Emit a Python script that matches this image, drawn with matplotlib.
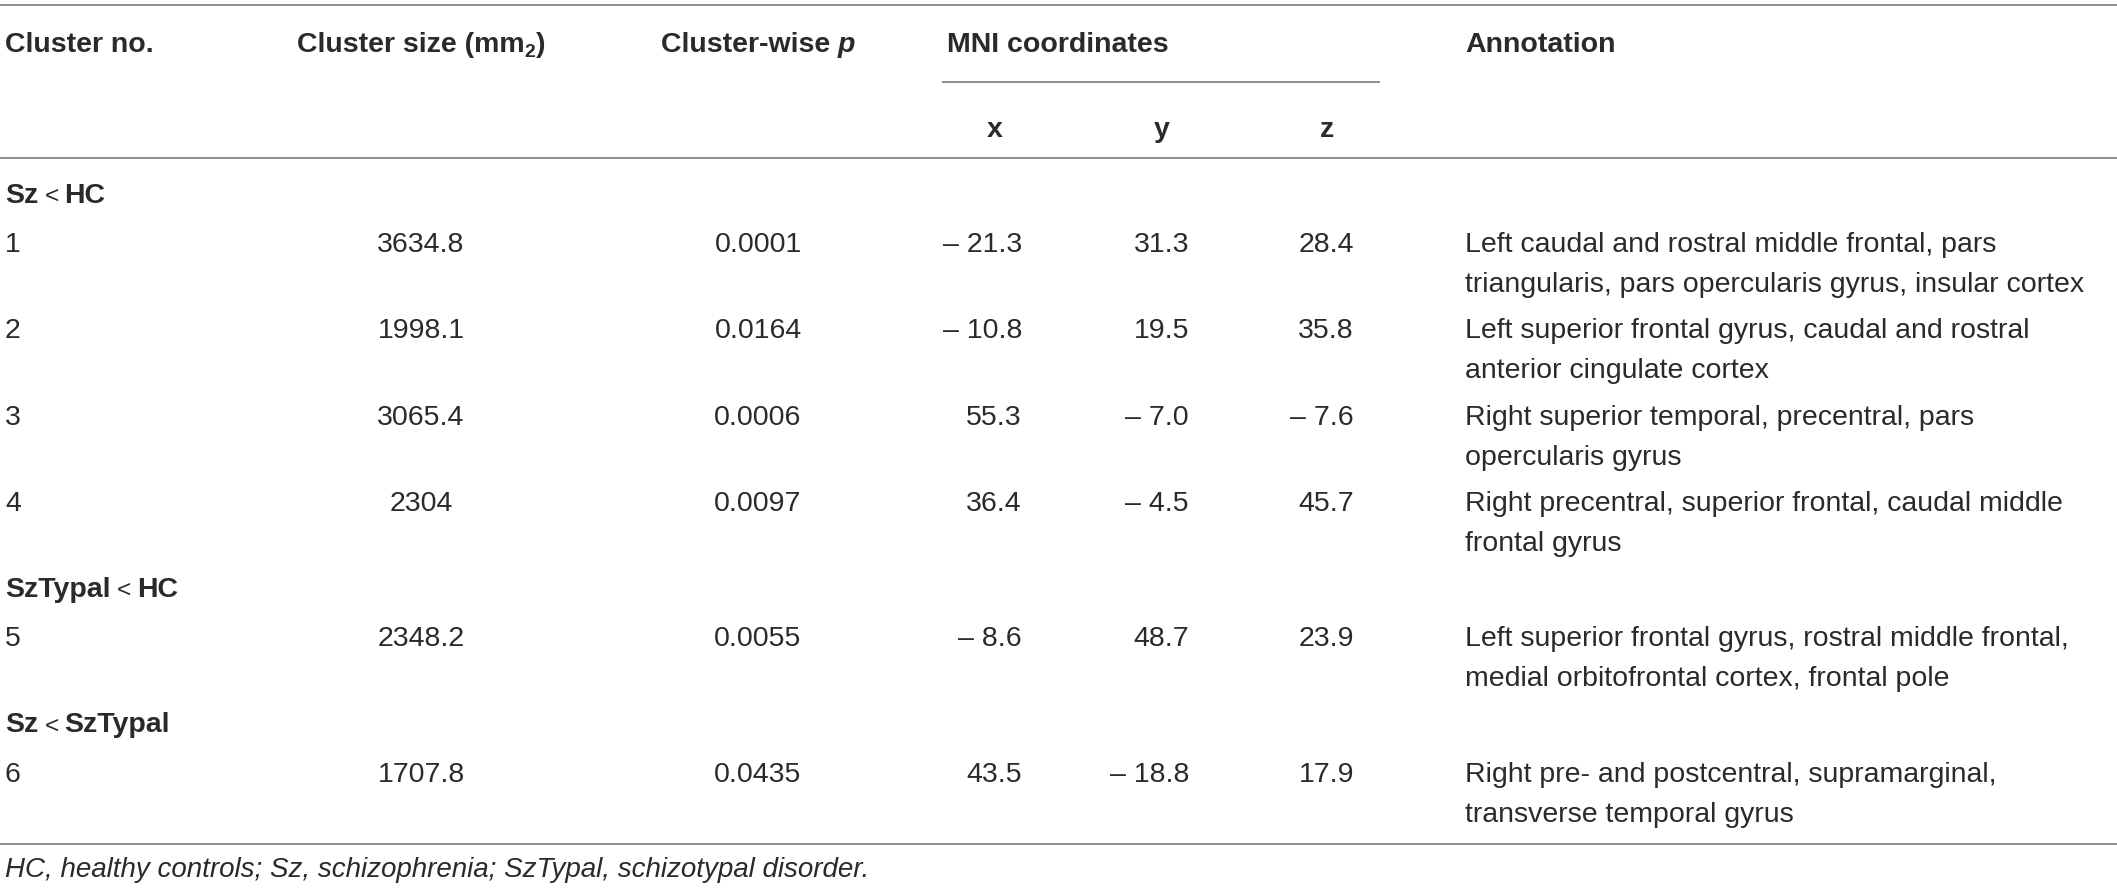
import matplotlib
matplotlib.use('Agg')
import matplotlib.pyplot as plt

# ── Table content ────────────────────────────────────────────────────────────
groups = ['Sz < HC', 'SzTypal < HC', 'Sz < SzTypal']
group_rows = [[0, 1, 2, 3], [4], [5]]

cluster_no = ['1', '2', '3', '4', '5', '6']
cluster_size = ['3634.8', '1998.1', '3065.4', '2304', '2348.2', '1707.8']
p_values = ['0.0001', '0.0164', '0.0006', '0.0097', '0.0055', '0.0435']
mni_x = [-21.3, -10.8, 55.3, 36.4, -8.6, 43.5]
mni_y = [31.3, 19.5, -7.0, -4.5, 48.7, -18.8]
mni_z = [28.4, 35.8, -7.6, 45.7, 23.9, 17.9]
annotations = [
    ('Left caudal and rostral middle frontal, pars',
     'triangularis, pars opercularis gyrus, insular cortex'),
    ('Left superior frontal gyrus, caudal and rostral',
     'anterior cingulate cortex'),
    ('Right superior temporal, precentral, pars',
     'opercularis gyrus'),
    ('Right precentral, superior frontal, caudal middle',
     'frontal gyrus'),
    ('Left superior frontal gyrus, rostral middle frontal,',
     'medial orbitofrontal cortex, frontal pole'),
    ('Right pre- and postcentral, supramarginal,',
     'transverse temporal gyrus'),
]
footnote = 'HC, healthy controls; Sz, schizophrenia; SzTypal, schizotypal disorder.'

# ── Style ────────────────────────────────────────────────────────────────────
W, H = 2117, 893
FS = 20.5
FONT = 'Liberation Sans'
TXT = '#2a2a2a'
RULE = '#858585'
plt.rcParams['font.family'] = [FONT, 'DejaVu Sans']

fig = plt.figure(figsize=(W / 100, H / 100), dpi=100)
ax = fig.add_axes([0, 0, 1, 1])
ax.set_xlim(0, W)
ax.set_ylim(H, 0)
ax.axis('off')
renderer = fig.canvas.get_renderer()

CAP = 10  # half cap height in px: centre -> baseline


def fmt(v):
    return f'– {abs(v):.1f}' if v < 0 else f'{v:.1f}'


def runs_width(runs):
    w = 0
    for s, props in runs:
        t = ax.text(0, 0, s, fontsize=props.get('fontsize', FS),
                    fontweight=props.get('fontweight', 'normal'),
                    fontstyle=props.get('fontstyle', 'normal'))
        w += t.get_window_extent(renderer).width + props.get('gap', 0)
        t.remove()
    return w


def draw_runs(x, yc, runs, ha='left'):
    if ha == 'center':
        x -= runs_width(runs) / 2
    for s, props in runs:
        t = ax.text(x, yc + CAP + props.get('dy', 0), s, va='baseline',
                    color=TXT, fontsize=props.get('fontsize', FS),
                    fontweight=props.get('fontweight', 'normal'),
                    fontstyle=props.get('fontstyle', 'normal'))
        x += t.get_window_extent(renderer).width + props.get('gap', 0)


def cell(x, yc, s, ha='left', fontsize=FS, **kw):
    ax.text(x, yc + CAP, s, ha=ha, va='baseline', color=TXT,
            fontsize=fontsize, **kw)


B = {'fontweight': 'bold'}

# ── Rules ────────────────────────────────────────────────────────────────────
for y in (5, 158, 844):
    ax.plot([0, W], [y, y], color=RULE, lw=1.3, solid_capstyle='butt')
ax.plot([942, 1380], [82, 82], color=RULE, lw=1.3, solid_capstyle='butt')

# ── Header ───────────────────────────────────────────────────────────────────
COL_NO, COL_SIZE, COL_P = 5, 421, 758
COL_X, COL_Y, COL_Z = 1022, 1189, 1354
COL_ANN = 1465

hy = 42
cell(COL_NO, hy, 'Cluster no.', fontweight='bold')
draw_runs(COL_SIZE, hy, [('Cluster size (mm', B),
                         ('2', {'fontweight': 'bold', 'fontsize': FS * 0.68, 'dy': 5}),
                         (')', B)], ha='center')
draw_runs(COL_P, hy, [('Cluster-wise ', B),
                      ('p', {'fontweight': 'bold', 'fontstyle': 'italic'})], ha='center')
cell(947, hy, 'MNI coordinates', fontweight='bold')
cell(COL_ANN, hy, 'Annotation', fontweight='bold')
for cx, lab in zip((995, 1162, 1327), ('x', 'y', 'z')):
    cell(cx, 127, lab, ha='center', fontweight='bold')

# ── Body ─────────────────────────────────────────────────────────────────────
y = 193
for g, rows in zip(groups, group_rows):
    left, right = g.split(' < ')
    draw_runs(COL_NO, y, [(left, {'fontweight': 'bold', 'gap': 6}),
                          ('<', {'fontsize': FS * 0.85, 'gap': 6}),
                          (right, B)])
    y += 49
    for i in rows:
        cell(COL_NO, y, cluster_no[i])
        cell(COL_SIZE, y, cluster_size[i], ha='center')
        cell(COL_P, y, p_values[i], ha='center')
        cell(COL_X, y, fmt(mni_x[i]), ha='right')
        cell(COL_Y, y, fmt(mni_y[i]), ha='right')
        cell(COL_Z, y, fmt(mni_z[i]), ha='right')
        cell(COL_ANN, y, annotations[i][0])
        cell(COL_ANN, y + 40, annotations[i][1])
        y += 86.3

cell(COL_NO, 867, footnote, fontstyle='italic', fontsize=20.0)

fig.savefig('out.png', dpi=100)
